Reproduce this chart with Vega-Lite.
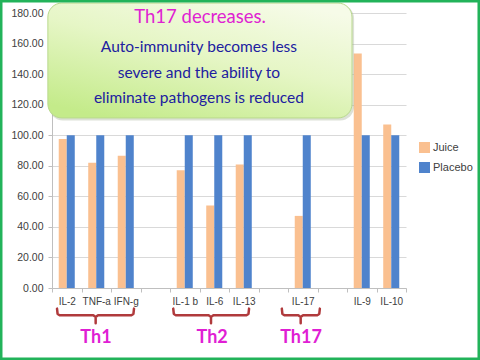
{
  "$schema": "https://vega.github.io/schema/vega-lite/v6.json",
  "width": 354,
  "height": 275,
  "autosize": {"type": "none"},
  "padding": {"left": 52, "top": 13, "right": 74, "bottom": 72},
  "background": "white",
  "config": {"view": {"stroke": null}, "font": "Liberation Sans"},
  "datasets": {
    "bars": [
      {"cytokine": "IL-2", "series": "Juice", "value": 97.6},
      {"cytokine": "IL-2", "series": "Placebo", "value": 100},
      {"cytokine": "TNF-a", "series": "Juice", "value": 82},
      {"cytokine": "TNF-a", "series": "Placebo", "value": 100},
      {"cytokine": "IFN-g", "series": "Juice", "value": 86.5},
      {"cytokine": "IFN-g", "series": "Placebo", "value": 100},
      {"cytokine": "IL-1 b", "series": "Juice", "value": 77},
      {"cytokine": "IL-1 b", "series": "Placebo", "value": 100},
      {"cytokine": "IL-6", "series": "Juice", "value": 54},
      {"cytokine": "IL-6", "series": "Placebo", "value": 100},
      {"cytokine": "IL-13", "series": "Juice", "value": 80.8},
      {"cytokine": "IL-13", "series": "Placebo", "value": 100},
      {"cytokine": "IL-17", "series": "Juice", "value": 47.2},
      {"cytokine": "IL-17", "series": "Placebo", "value": 100},
      {"cytokine": "IL-9", "series": "Juice", "value": 153.5},
      {"cytokine": "IL-9", "series": "Placebo", "value": 100},
      {"cytokine": "IL-10", "series": "Juice", "value": 107},
      {"cytokine": "IL-10", "series": "Placebo", "value": 100}
    ],
    "brackets": [
      {"group": "Th1", "i": 0, "bx": 0.17, "by": -13.5},
      {"group": "Th1", "i": 1, "bx": 0.19, "by": -17.0},
      {"group": "Th1", "i": 2, "bx": 0.27, "by": -17.9},
      {"group": "Th1", "i": 3, "bx": 1.40, "by": -17.9},
      {"group": "Th1", "i": 4, "bx": 1.48, "by": -19.0},
      {"group": "Th1", "i": 5, "bx": 1.48, "by": -23.0},
      {"group": "Th1", "i": 6, "bx": 1.48, "by": -19.0},
      {"group": "Th1", "i": 7, "bx": 1.56, "by": -17.9},
      {"group": "Th1", "i": 8, "bx": 2.68, "by": -17.9},
      {"group": "Th1", "i": 9, "bx": 2.76, "by": -17.0},
      {"group": "Th1", "i": 10, "bx": 2.78, "by": -13.5},
      {"group": "Th2", "i": 0, "bx": 4.11, "by": -13.5},
      {"group": "Th2", "i": 1, "bx": 4.13, "by": -17.0},
      {"group": "Th2", "i": 2, "bx": 4.21, "by": -17.9},
      {"group": "Th2", "i": 3, "bx": 5.31, "by": -17.9},
      {"group": "Th2", "i": 4, "bx": 5.39, "by": -19.0},
      {"group": "Th2", "i": 5, "bx": 5.39, "by": -23.0},
      {"group": "Th2", "i": 6, "bx": 5.39, "by": -19.0},
      {"group": "Th2", "i": 7, "bx": 5.47, "by": -17.9},
      {"group": "Th2", "i": 8, "bx": 6.58, "by": -17.9},
      {"group": "Th2", "i": 9, "bx": 6.66, "by": -17.0},
      {"group": "Th2", "i": 10, "bx": 6.68, "by": -13.5},
      {"group": "Th17", "i": 0, "bx": 7.79, "by": -13.5},
      {"group": "Th17", "i": 1, "bx": 7.81, "by": -17.0},
      {"group": "Th17", "i": 2, "bx": 7.89, "by": -17.9},
      {"group": "Th17", "i": 3, "bx": 8.35, "by": -17.9},
      {"group": "Th17", "i": 4, "bx": 8.43, "by": -19.0},
      {"group": "Th17", "i": 5, "bx": 8.43, "by": -23.0},
      {"group": "Th17", "i": 6, "bx": 8.43, "by": -19.0},
      {"group": "Th17", "i": 7, "bx": 8.51, "by": -17.9},
      {"group": "Th17", "i": 8, "bx": 8.98, "by": -17.9},
      {"group": "Th17", "i": 9, "bx": 9.06, "by": -17.0},
      {"group": "Th17", "i": 10, "bx": 9.08, "by": -13.5}
    ],
    "groupLabels": [
      {"group": "Th1", "bx": 1.49},
      {"group": "Th2", "bx": 5.43},
      {"group": "Th17", "bx": 8.44}
    ],
    "one": [{}]
  },
  "layer": [
    {
      "data": {"name": "bars"},
      "mark": {"type": "bar"},
      "encoding": {
        "x": {
          "field": "cytokine",
          "type": "nominal",
          "sort": null,
          "scale": {
            "domain": ["IL-2", "TNF-a", "IFN-g", " ", "IL-1 b", "IL-6", "IL-13", "  ", "IL-17", "   ", "IL-9", "IL-10"],
            "paddingInner": 0,
            "paddingOuter": 0
          },
          "axis": {
            "title": null,
            "labelAngle": 0,
            "tickBand": "extent",
            "tickSize": 4,
            "tickColor": "#bfbfbf",
            "domainColor": "#bfbfbf",
            "labelFontSize": 10,
            "labelColor": "#404040",
            "labelPadding": 4,
            "labelOverlap": false
          }
        },
        "xOffset": {
          "field": "series",
          "type": "nominal",
          "scale": {"domain": ["Juice", "Placebo"], "paddingInner": 0, "paddingOuter": 0.84}
        },
        "y": {
          "field": "value",
          "type": "quantitative",
          "scale": {"domain": [0, 180], "nice": false, "zero": true},
          "axis": {
            "title": null,
            "values": [0, 20, 40, 60, 80, 100, 120, 140, 160, 180],
            "format": ".2f",
            "labelFontSize": 10.5,
            "labelColor": "#404040",
            "labelOverlap": false,
            "labelFlush": false,
            "tickSize": 4,
            "tickColor": "#bfbfbf",
            "domainColor": "#bfbfbf",
            "gridColor": "#d9d9d9",
            "labelPadding": 5
          }
        },
        "color": {
          "field": "series",
          "type": "nominal",
          "scale": {"domain": ["Juice", "Placebo"], "range": ["#fac090", "#4f83cc"]},
          "legend": {
            "title": null,
            "orient": "none",
            "legendX": 367,
            "legendY": 129,
            "symbolType": "square",
            "symbolSize": 121,
            "symbolStrokeWidth": 0,
            "labelFontSize": 11,
            "labelColor": "#404040",
            "rowPadding": 8,
            "labelOffset": 3
          }
        }
      }
    },
    {
      "layer": [
        {
          "data": {"name": "one"},
          "mark": {"type": "rect", "cornerRadius": 14, "fill": "#9aa88a", "opacity": 0.35},
          "encoding": {
            "x": {"datum": -0.1, "type": "quantitative", "scale": {"domain": [0, 12]}, "axis": null},
            "x2": {"datum": 10.24},
            "y": {"datum": 109.6, "type": "quantitative", "axis": null},
            "y2": {"datum": 185.5}
          }
        },
        {
          "data": {"name": "one"},
          "mark": {
            "type": "rect",
            "cornerRadius": 14,
            "stroke": "#b9d98e",
            "strokeWidth": 1,
            "fill": {
              "gradient": "linear",
              "x1": 0.8, "y1": 0, "x2": 0.2, "y2": 1,
              "stops": [
                {"offset": 0, "color": "#f6fbe8"},
                {"offset": 0.45, "color": "#e6f6c6"},
                {"offset": 1, "color": "#c4eb8a"}
              ]
            }
          },
          "encoding": {
            "x": {"datum": -0.14, "type": "quantitative"},
            "x2": {"datum": 10.17},
            "y": {"datum": 111.3, "type": "quantitative"},
            "y2": {"datum": 186.5}
          }
        },
        {
          "data": {"name": "one"},
          "mark": {"type": "text", "text": "Th17 decreases.", "font": "Lato", "fontSize": 18.5, "color": "#df22d2", "align": "center", "baseline": "middle"},
          "encoding": {
            "x": {"datum": 5.02, "type": "quantitative"},
            "y": {"datum": 177.2, "type": "quantitative"}
          }
        },
        {
          "data": {"name": "one"},
          "mark": {
            "type": "text",
            "text": ["Auto-immunity becomes less", "severe and the ability to", "eliminate pathogens is reduced"],
            "font": "Lato",
            "fontSize": 15.5,
            "lineHeight": 25.5,
            "color": "#2020a0",
            "align": "center",
            "baseline": "middle"
          },
          "encoding": {
            "x": {"datum": 4.98, "type": "quantitative"},
            "y": {"datum": 157.7, "type": "quantitative"}
          }
        },
        {
          "data": {"name": "brackets"},
          "mark": {"type": "line", "color": "#b03a3c", "strokeWidth": 2.5, "strokeCap": "round", "strokeJoin": "round"},
          "encoding": {
            "x": {"field": "bx", "type": "quantitative"},
            "y": {"field": "by", "type": "quantitative"},
            "detail": {"field": "group"},
            "order": {"field": "i"}
          }
        },
        {
          "data": {"name": "groupLabels"},
          "mark": {"type": "text", "font": "Lato", "fontWeight": "bold", "fontSize": 18, "color": "#e01ed4", "align": "center", "baseline": "middle"},
          "encoding": {
            "x": {"field": "bx", "type": "quantitative"},
            "y": {"datum": -33, "type": "quantitative"},
            "text": {"field": "group"}
          }
        },
        {
          "data": {"name": "one"},
          "mark": {"type": "rect", "fill": null, "stroke": "#22b35a", "strokeWidth": 5},
          "encoding": {
            "x": {"datum": -1.763, "type": "quantitative"},
            "x2": {"datum": 14.508},
            "y": {"datum": -47.13, "type": "quantitative"},
            "y2": {"datum": 188.5}
          }
        }
      ]
    }
  ],
  "resolve": {"scale": {"x": "independent"}, "axis": {"x": "independent", "y": "independent"}}
}
